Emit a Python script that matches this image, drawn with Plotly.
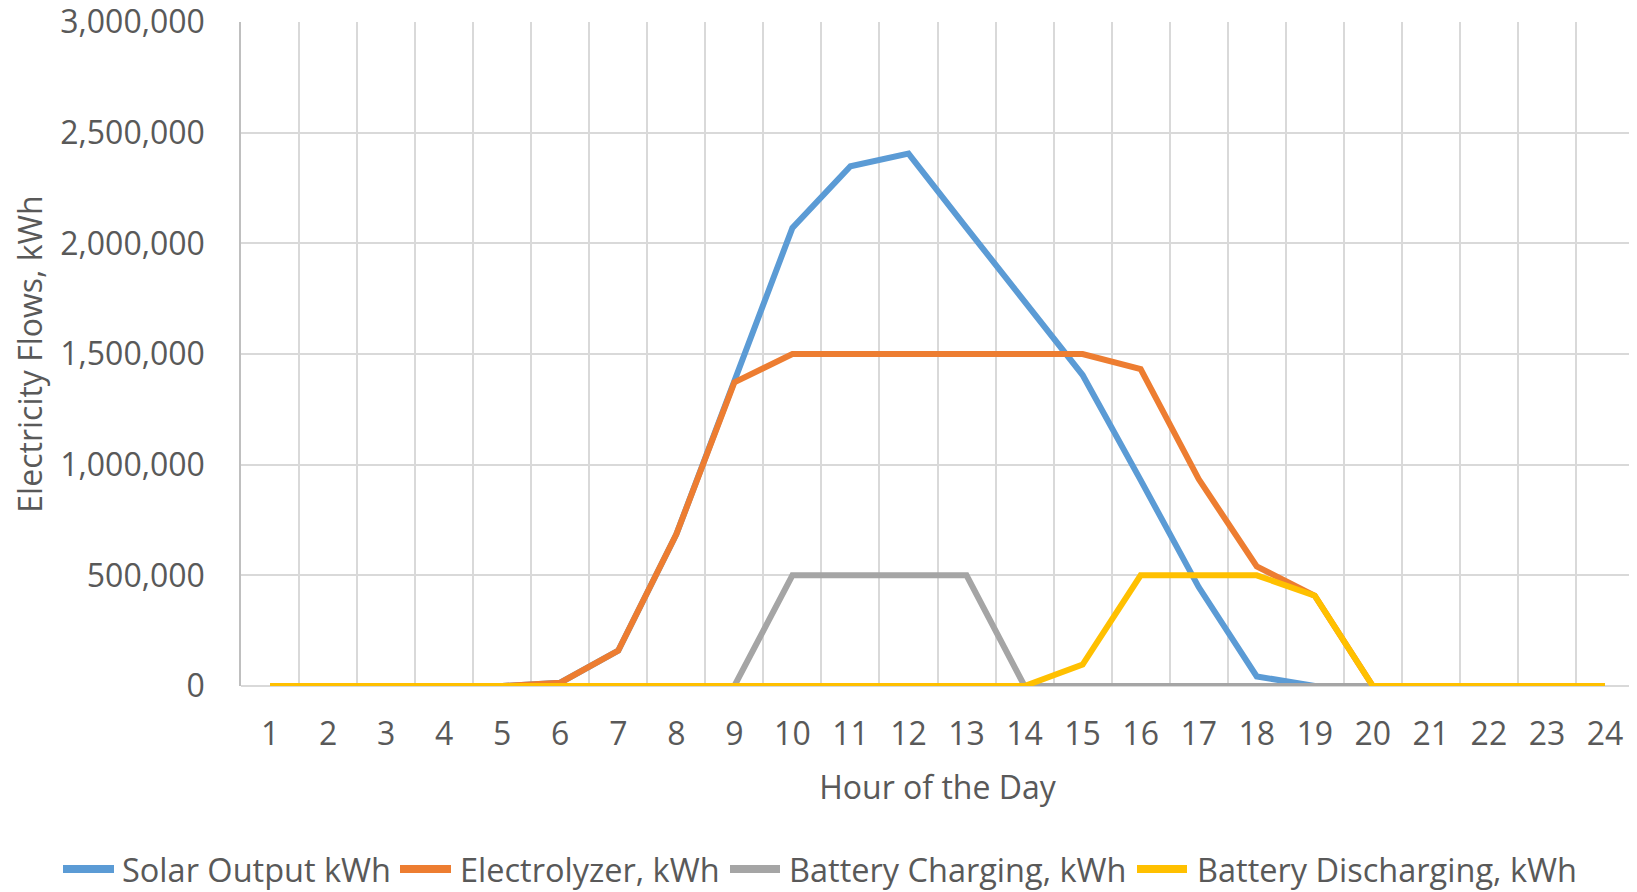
import plotly.graph_objects as go

hours = [str(h) for h in range(1, 25)]

solar = [0, 0, 0, 0, 0, 15000, 160000, 685000, 1372000, 2070000, 2348000, 2405000,
         2070000, 1742000, 1405000, 930000, 447000, 43000, 0, 0, 0, 0, 0, 0]
electrolyzer = [0, 0, 0, 0, 0, 15000, 160000, 685000, 1372000, 1500000, 1500000, 1500000,
                1500000, 1500000, 1500000, 1432000, 935000, 540000, 408000, 0, 0, 0, 0, 0]
batt_charge = [0, 0, 0, 0, 0, 0, 0, 0, 0, 500000, 500000, 500000,
               500000, 0, 0, 0, 0, 0, 0, 0, 0, 0, 0, 0]
batt_discharge = [0, 0, 0, 0, 0, 0, 0, 0, 0, 0, 0, 0,
                  0, 0, 97000, 500000, 500000, 500000, 408000, 0, 0, 0, 0, 0]

series = [
    ("Solar Output kWh", solar, "#5B9BD5"),
    ("Electrolyzer, kWh", electrolyzer, "#ED7D31"),
    ("Battery Charging, kWh", batt_charge, "#A5A5A5"),
    ("Battery Discharging, kWh", batt_discharge, "#FFC000"),
]

FONT = "Open Sans"
TXT = "#595959"
GRID = "#D9D9D9"
FS = 32

# page body has an 8px margin, so the figure is a bit smaller than the window
W, H = 1629, 884
ML, MR, MT, MB = 233, 3, 14, 206
PW, PH = W - ML - MR, H - MT - MB


def px_x(p):
    # page pixel -> paper x
    return (p - 8 - ML) / PW


def px_y(p):
    # page pixel -> paper y
    return (8 + H - MB - p) / PH


fig = go.Figure()
for name, vals, col in series:
    fig.add_trace(go.Scatter(
        x=hours, y=vals, name=name, mode="lines",
        line=dict(color=col, width=6), showlegend=False,
    ))

# legend drawn by hand, Excel style (swatch + text, centered on the chart area)
leg_y = px_y(869)
leg_pos = [(60, 117, 120), (397, 454, 458), (727, 783, 787), (1134, 1190, 1195)]
for (name, _, col), (l0, l1, t0) in zip(series, leg_pos):
    fig.add_shape(type="line", xref="paper", yref="paper",
                  x0=px_x(l0 + 3), x1=px_x(l1 - 3), y0=leg_y, y1=leg_y,
                  line=dict(color=col, width=8))
    fig.add_annotation(xref="paper", yref="paper", x=px_x(t0), y=leg_y,
                       text=name, showarrow=False, xanchor="left", yanchor="middle",
                       font=dict(size=32.5, color=TXT, family=FONT))

fig.update_layout(
    width=W, height=H,
    margin=dict(l=ML, r=MR, t=MT, b=MB),
    plot_bgcolor="white", paper_bgcolor="white",
    font=dict(family=FONT, color=TXT, size=FS),
    showlegend=False,
)

fig.update_xaxes(
    type="category", tickson="boundaries", range=[-0.5, 23.5],
    showgrid=True, gridcolor=GRID, gridwidth=1.5,
    ticks="", ticklabelstandoff=26, tickfont=dict(size=FS, color=TXT),
    title=dict(text="Hour of the Day", font=dict(size=FS, color=TXT), standoff=23),
    showline=False, zeroline=False, automargin=False, ticklabeloverflow="allow",
)
fig.update_yaxes(
    range=[0, 3000000], dtick=500000, tickformat=",d",
    showgrid=True, gridcolor=GRID, gridwidth=1.5,
    ticks="", ticklabelstandoff=28, tickfont=dict(size=FS, color=TXT),
    title=dict(text="Electricity Flows, kWh", font=dict(size=FS, color=TXT), standoff=13),
    showline=True, linecolor="#BFBFBF", linewidth=1.5,
    zeroline=True, zerolinecolor=GRID, zerolinewidth=1.5,
    automargin=False, ticklabeloverflow="allow",
)

fig.write_html("out.html")
